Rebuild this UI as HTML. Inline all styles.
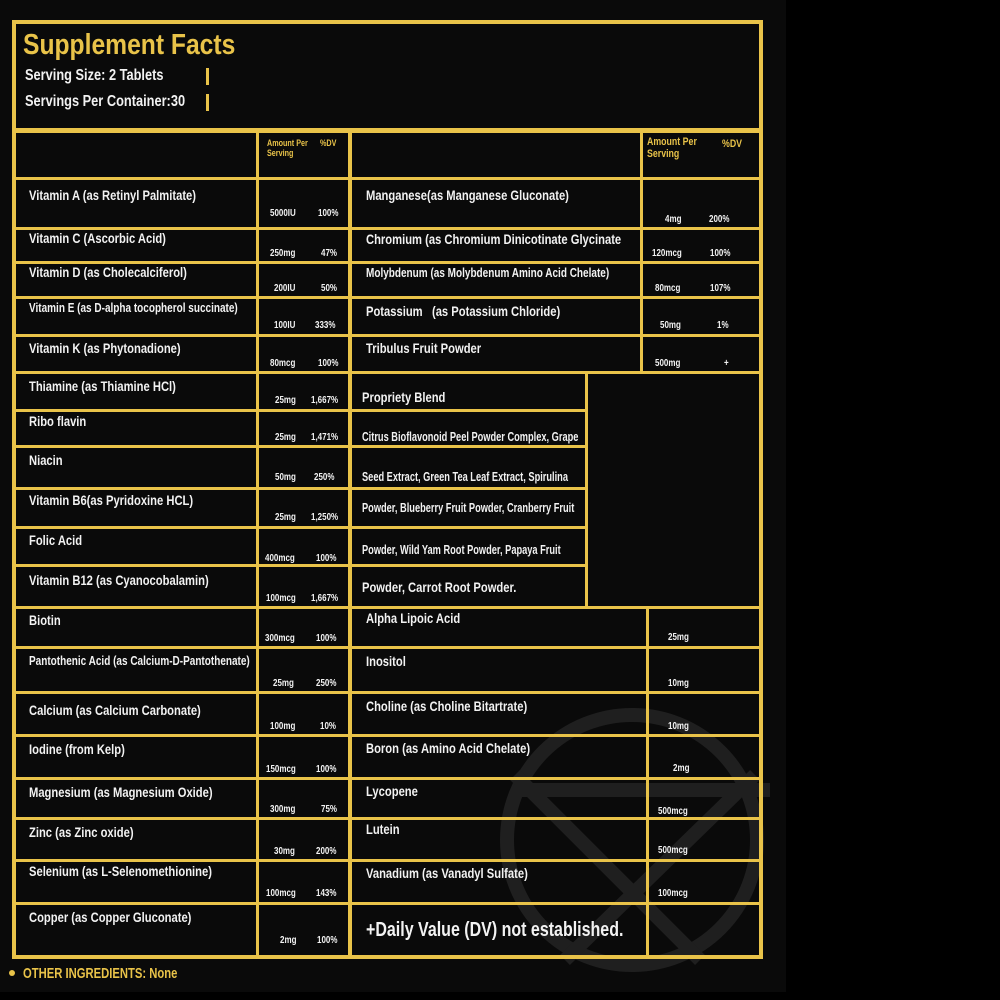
<!DOCTYPE html>
<html><head><meta charset="utf-8"><style>
*{margin:0;padding:0;box-sizing:border-box}
body{width:1000px;height:1000px;background:#000;position:relative;overflow:hidden;font-family:"Liberation Sans",sans-serif}
.bg{position:absolute;left:0;top:0;width:786px;height:992px;background:#0a0a0a}
.h{position:absolute;height:3px;background:#e9c349}
.v{position:absolute;width:3px;background:#e9c349}
.t{position:absolute;white-space:nowrap;transform:scaleX(.8);transform-origin:0 0;font-weight:bold;color:#f2f2f2;line-height:1}
.n{font-size:14px}
.s{font-size:12.5px}
.b{font-size:12.5px;transform:scaleX(.74)}
.a{font-size:10px}
.g{color:#e9c349}
</style></head><body>
<div class="bg"></div>
<svg style="position:absolute;left:0;top:0" width="1000" height="1000">
<g stroke="#1f1f1f" stroke-width="14" fill="none">
<circle cx="632" cy="840" r="125"/>
<path d="M515 775 L700 960 M755 775 L565 960 M515 790 L770 790"/>
</g>
</svg>
<div style="position:absolute;left:12px;top:20px;width:751px;height:939px;border:4px solid #e9c349"></div>
<div class="h" style="left:12px;top:128px;width:751px;height:5px"></div>
<div style="position:absolute;left:206px;top:68px;width:3px;height:17px;background:#e9c349"></div>
<div style="position:absolute;left:206px;top:94px;width:3px;height:17px;background:#e9c349"></div>

<div class="h" style="left:16px;top:177px;width:743px"></div>
<div class="h" style="left:16px;top:227px;width:743px"></div>
<div class="h" style="left:16px;top:261px;width:743px"></div>
<div class="h" style="left:16px;top:296px;width:743px"></div>
<div class="h" style="left:16px;top:334px;width:743px"></div>
<div class="h" style="left:16px;top:371px;width:743px"></div>
<div class="h" style="left:16px;top:409px;width:572px"></div>
<div class="h" style="left:16px;top:445px;width:572px"></div>
<div class="h" style="left:16px;top:487px;width:572px"></div>
<div class="h" style="left:16px;top:526px;width:572px"></div>
<div class="h" style="left:16px;top:564px;width:572px"></div>
<div class="h" style="left:16px;top:606px;width:743px"></div>
<div class="h" style="left:16px;top:646px;width:743px"></div>
<div class="h" style="left:16px;top:691px;width:743px"></div>
<div class="h" style="left:16px;top:734px;width:743px"></div>
<div class="h" style="left:16px;top:777px;width:743px"></div>
<div class="h" style="left:16px;top:817px;width:743px"></div>
<div class="h" style="left:16px;top:859px;width:743px"></div>
<div class="h" style="left:16px;top:902px;width:743px"></div>
<div class="v" style="left:256px;top:133px;height:822px"></div>
<div class="v" style="left:348px;top:133px;height:822px;width:4px"></div>
<div class="v" style="left:640px;top:133px;height:240px"></div>
<div class="v" style="left:585px;top:372px;height:236px"></div>
<div class="v" style="left:646px;top:607px;height:348px"></div>

<div class="t g" style="left:23px;top:31px;font-size:29px;transform:scaleX(.85)">Supplement Facts</div>
<div class="t" style="left:25px;top:68px;font-size:16px">Serving Size: 2 Tablets</div>
<div class="t" style="left:25px;top:94px;font-size:16px">Servings Per Container:30</div>
<div class="t g" style="left:267px;top:139px;font-size:9px">Amount Per</div>
<div class="t g" style="left:267px;top:149px;font-size:9px">Serving</div>
<div class="t g" style="left:320px;top:139px;font-size:9px">%DV</div>
<div class="t g" style="left:647px;top:137px;font-size:11px">Amount Per</div>
<div class="t g" style="left:647px;top:149px;font-size:11px">Serving</div>
<div class="t g" style="left:722px;top:139px;font-size:11px">%DV</div>

<div class="t n" style="left:29px;top:188px">Vitamin A (as Retinyl Palmitate)</div>
<div class="t n" style="left:29px;top:231px">Vitamin C (Ascorbic Acid)</div>
<div class="t n" style="left:29px;top:265px">Vitamin D (as Cholecalciferol)</div>
<div class="t s" style="left:29px;top:302px">Vitamin E (as D-alpha tocopherol succinate)</div>
<div class="t n" style="left:29px;top:341px">Vitamin K (as Phytonadione)</div>
<div class="t n" style="left:29px;top:379px">Thiamine (as Thiamine HCl)</div>
<div class="t n" style="left:29px;top:414px">Ribo flavin</div>
<div class="t n" style="left:29px;top:453px">Niacin</div>
<div class="t n" style="left:29px;top:493px">Vitamin B6(as Pyridoxine HCL)</div>
<div class="t n" style="left:29px;top:533px">Folic Acid</div>
<div class="t n" style="left:29px;top:573px">Vitamin B12 (as Cyanocobalamin)</div>
<div class="t n" style="left:29px;top:613px">Biotin</div>
<div class="t s" style="left:29px;top:655px">Pantothenic Acid (as Calcium-D-Pantothenate)</div>
<div class="t n" style="left:29px;top:703px">Calcium (as Calcium Carbonate)</div>
<div class="t n" style="left:29px;top:742px">Iodine (from Kelp)</div>
<div class="t n" style="left:29px;top:785px">Magnesium (as Magnesium Oxide)</div>
<div class="t n" style="left:29px;top:825px">Zinc (as Zinc oxide)</div>
<div class="t n" style="left:29px;top:864px">Selenium (as L-Selenomethionine)</div>
<div class="t n" style="left:29px;top:910px">Copper (as Copper Gluconate)</div>

<div class="t a" style="left:270px;top:209px">5000IU</div><div class="t a" style="left:318px;top:209px">100%</div>
<div class="t a" style="left:270px;top:249px">250mg</div><div class="t a" style="left:321px;top:249px">47%</div>
<div class="t a" style="left:274px;top:284px">200IU</div><div class="t a" style="left:321px;top:284px">50%</div>
<div class="t a" style="left:274px;top:321px">100IU</div><div class="t a" style="left:315px;top:321px">333%</div>
<div class="t a" style="left:270px;top:359px">80mcg</div><div class="t a" style="left:318px;top:359px">100%</div>
<div class="t a" style="left:275px;top:396px">25mg</div><div class="t a" style="left:311px;top:396px">1,667%</div>
<div class="t a" style="left:275px;top:433px">25mg</div><div class="t a" style="left:311px;top:433px">1,471%</div>
<div class="t a" style="left:275px;top:473px">50mg</div><div class="t a" style="left:314px;top:473px">250%</div>
<div class="t a" style="left:275px;top:513px">25mg</div><div class="t a" style="left:311px;top:513px">1,250%</div>
<div class="t a" style="left:265px;top:554px">400mcg</div><div class="t a" style="left:316px;top:554px">100%</div>
<div class="t a" style="left:266px;top:594px">100mcg</div><div class="t a" style="left:311px;top:594px">1,667%</div>
<div class="t a" style="left:265px;top:634px">300mcg</div><div class="t a" style="left:316px;top:634px">100%</div>
<div class="t a" style="left:273px;top:679px">25mg</div><div class="t a" style="left:316px;top:679px">250%</div>
<div class="t a" style="left:270px;top:722px">100mg</div><div class="t a" style="left:320px;top:722px">10%</div>
<div class="t a" style="left:266px;top:765px">150mcg</div><div class="t a" style="left:316px;top:765px">100%</div>
<div class="t a" style="left:270px;top:805px">300mg</div><div class="t a" style="left:321px;top:805px">75%</div>
<div class="t a" style="left:274px;top:847px">30mg</div><div class="t a" style="left:316px;top:847px">200%</div>
<div class="t a" style="left:266px;top:889px">100mcg</div><div class="t a" style="left:316px;top:889px">143%</div>
<div class="t a" style="left:280px;top:936px">2mg</div><div class="t a" style="left:317px;top:936px">100%</div>

<div class="t n" style="left:366px;top:188px">Manganese(as Manganese Gluconate)</div>
<div class="t n" style="left:366px;top:232px">Chromium (as Chromium Dinicotinate Glycinate</div>
<div class="t s" style="left:366px;top:267px">Molybdenum (as Molybdenum Amino Acid Chelate)</div>
<div class="t n" style="left:366px;top:304px">Potassium &nbsp;&nbsp;(as Potassium Chloride)</div>
<div class="t n" style="left:366px;top:341px">Tribulus Fruit Powder</div>
<div class="t a" style="left:665px;top:215px">4mg</div><div class="t a" style="left:709px;top:215px">200%</div>
<div class="t a" style="left:652px;top:249px">120mcg</div><div class="t a" style="left:710px;top:249px">100%</div>
<div class="t a" style="left:655px;top:284px">80mcg</div><div class="t a" style="left:710px;top:284px">107%</div>
<div class="t a" style="left:660px;top:321px">50mg</div><div class="t a" style="left:717px;top:321px">1%</div>
<div class="t a" style="left:655px;top:359px">500mg</div><div class="t a" style="left:724px;top:359px">+</div>

<div class="t n" style="left:362px;top:390px">Propriety Blend</div>
<div class="t b" style="left:362px;top:431px">Citrus Bioflavonoid Peel Powder Complex, Grape</div>
<div class="t b" style="left:362px;top:471px">Seed Extract, Green Tea Leaf Extract, Spirulina</div>
<div class="t b" style="left:362px;top:502px">Powder, Blueberry Fruit Powder, Cranberry Fruit</div>
<div class="t b" style="left:362px;top:544px">Powder, Wild Yam Root Powder, Papaya Fruit</div>
<div class="t n" style="left:362px;top:580px">Powder, Carrot Root Powder.</div>

<div class="t n" style="left:366px;top:611px">Alpha Lipoic Acid</div>
<div class="t n" style="left:366px;top:654px">Inositol</div>
<div class="t n" style="left:366px;top:699px">Choline (as Choline Bitartrate)</div>
<div class="t n" style="left:366px;top:741px">Boron (as Amino Acid Chelate)</div>
<div class="t n" style="left:366px;top:784px">Lycopene</div>
<div class="t n" style="left:366px;top:822px">Lutein</div>
<div class="t n" style="left:366px;top:866px">Vanadium (as Vanadyl Sulfate)</div>
<div class="t" style="left:366px;top:920px;font-size:20px">+Daily Value (DV) not established.</div>
<div class="t a" style="left:668px;top:633px">25mg</div>
<div class="t a" style="left:668px;top:679px">10mg</div>
<div class="t a" style="left:668px;top:722px">10mg</div>
<div class="t a" style="left:673px;top:764px">2mg</div>
<div class="t a" style="left:658px;top:807px">500mcg</div>
<div class="t a" style="left:658px;top:846px">500mcg</div>
<div class="t a" style="left:658px;top:889px">100mcg</div>

<div style="position:absolute;left:9px;top:970px;width:6px;height:6px;border-radius:50%;background:#e9c349"></div>
<div class="t g" style="left:23px;top:966px;font-size:15px;transform:scaleX(.75)">OTHER INGREDIENTS: None</div>
</body></html>
